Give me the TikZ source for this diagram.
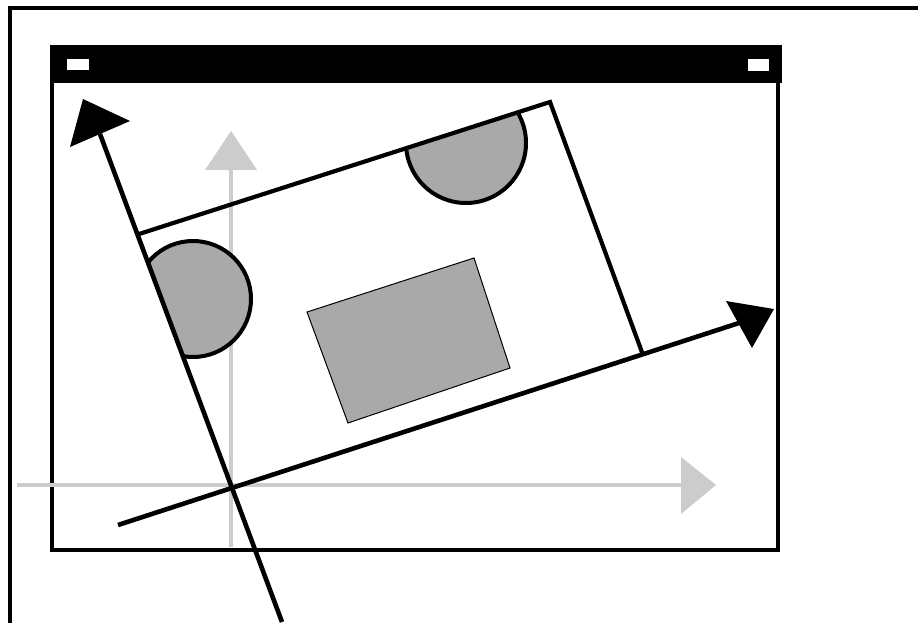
\documentclass[tikz,border=0pt]{standalone}
\definecolor{axgray}{HTML}{CCCCCC}
\definecolor{shgray}{HTML}{A9A9A9}
\begin{document}
\begin{tikzpicture}[x=1pt,y=-1pt,
  blk/.style={line width=4.2pt,line join=miter},
  gaxis/.style={draw=axgray,line width=4.2pt},
  ghead/.style={fill=axgray},
  gshape/.style={fill=shgray,draw=black,line width=4pt}]
\useasboundingbox (0,0) rectangle (918,623);
% outer frame
\draw[line width=4pt,line join=miter] (10,626) -- (10,8) -- (922,8);
% window
\draw[line width=4pt] (52,47) rectangle (778,550);
\fill[black] (51,45) rectangle (782,83);
\fill[white] (67,59) rectangle (89,70);
\fill[white] (748,59) rectangle (769,71);
% gray axes
\coordinate (gv0) at (231,547);
\coordinate (gv1) at (231,170);
\coordinate (gh0) at (17,485);
\coordinate (gh1) at (681,485);
\draw[gaxis] (gv0) -- (gv1);
\fill[ghead] (205,170) -- (231,131) -- (257,170) -- cycle;
\draw[gaxis] (gh0) -- (gh1);
\fill[ghead] (681,457) -- (716,485) -- (681,514) -- cycle;
% rotated frame
\coordinate (O) at (231,488);
\coordinate (TL) at (136,235);
\coordinate (TR) at (550,102);
\coordinate (BR) at (643,355);
\begin{scope}
  \clip (O) -- (TL) -- (TR) -- (BR) -- cycle;
  \filldraw[gshape] (466,143) circle [radius=60pt];
  \filldraw[gshape] (193,299) circle [radius=58pt];
\end{scope}
\filldraw[fill=shgray,draw=black,line width=1pt] (307,312) -- (474,258) -- (510,368) -- (348,423) -- cycle;
\draw[blk] (TL) -- (TR) -- (BR);
% rotated axes
\coordinate (Ylow) at (282,622);
\coordinate (Ybase) at (100,134);
\coordinate (Xlow) at (118,525);
\coordinate (Xbase) at (739,323);
\draw[line width=4.6pt] (Ylow) -- (Ybase);
\fill[black] (83,99) -- (130,121) -- (70,147) -- cycle;
\draw[line width=4.6pt] (Xlow) -- (Xbase);
\fill[black] (726,301) -- (774,309) -- (752,348) -- cycle;
\end{tikzpicture}
\end{document}
